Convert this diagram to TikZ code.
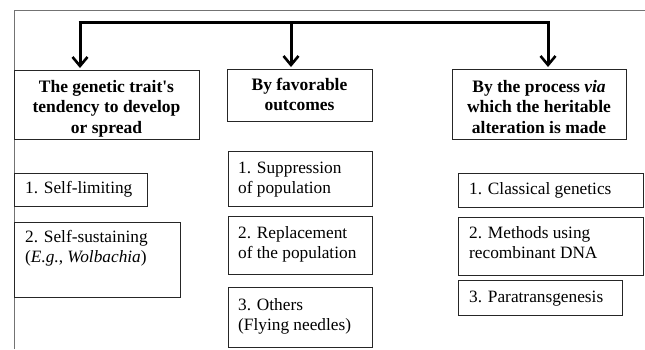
\documentclass[tikz,border=0pt]{standalone}
\usepackage{fontspec}
\setmainfont{Liberation Serif}
\usetikzlibrary{arrows.meta}
\tikzset{
  box/.style={draw=black!85, line width=0.8pt, inner sep=0pt, anchor=north west},
  frameline/.style={draw=black!55, line width=0.8pt},
  bar/.style={line width=3pt, line join=miter, line cap=butt},
  arr/.style={bar, -{Straight Barb[length=9pt,width=15pt,line width=2.6pt]}, shorten >=2pt},
  txt/.style={inner sep=0pt, anchor=base west, font=\fontsize{17.3}{20}\selectfont},
  htxt/.style={inner sep=0pt, anchor=base, font=\fontsize{17.5}{20.5}\selectfont\bfseries},
}
\begin{document}
\begin{tikzpicture}[x=1pt,y=-1pt]
\useasboundingbox (0,0) rectangle (645,349);
% frame
\draw[frameline] (14,349) -- (14,10) -- (645,10);
% header boxes
\node[box, minimum width=185pt, minimum height=69pt] (h1) at (14,70) {};
\node[box, minimum width=145pt, minimum height=52pt] (h2) at (227,69) {};
\node[box, minimum width=174pt, minimum height=70pt] (h3) at (452,69) {};
\node[htxt] (h1t) at (106.5,92) {\parbox[t]{185pt}{\centering The genetic trait\textquotesingle s\\tendency to develop\\or spread}};
\node[htxt] (h2t) at (299.5,90) {\parbox[t]{145pt}{\centering By favorable\\outcomes}};
\node[htxt] (h3t) at (539,92) {\parbox[t]{174pt}{\centering By the process \textit{via}\\which the heritable\\alteration is made}};
% bracket
\coordinate (j1) at (80,22);
\coordinate (j2) at (291,22);
\coordinate (j3) at (548,22);
\draw[bar] ([xshift=-1.5pt]j1) -- ([xshift=1.5pt]j3);
\draw[arr] ([yshift=-1.5pt]j1) -- (j1 |- h1.north);
\draw[arr] (j2) -- (j2 |- h2.north);
\draw[arr] ([yshift=-1.5pt]j3) -- (j3 |- h3.north);
% sub boxes column 1
\node[box, minimum width=133pt, minimum height=33pt] (s1a) at (14,173) {};
\node[box, minimum width=166pt, minimum height=75pt] (s1b) at (14,222) {};
\node[txt] (s1at) at (25,193) {1. Self-limiting};
\node[txt] (s1bt) at (25,242) {\parbox[t]{160pt}{2. Self-sustaining\\(\textit{E.g.}, \textit{Wolbachia})}};
% column 2
\node[box, minimum width=144pt, minimum height=55pt] (s2a) at (228,151) {};
\node[box, minimum width=144pt, minimum height=58pt] (s2b) at (228,216) {};
\node[box, minimum width=144pt, minimum height=60pt] (s2c) at (228,287) {};
\node[txt] (s2at) at (238,173) {\parbox[t]{140pt}{1. Suppression\\of population}};
\node[txt] (s2bt) at (238,238) {\parbox[t]{140pt}{2. Replacement\\of the population}};
\node[txt] (s2ct) at (238,310) {\parbox[t]{140pt}{3. Others\\(Flying needles)}};
% column 3
\node[box, minimum width=185pt, minimum height=34pt] (s3a) at (458,173) {};
\node[box, minimum width=185pt, minimum height=58pt] (s3b) at (458,217) {};
\node[box, minimum width=164pt, minimum height=35pt] (s3c) at (458,280) {};
\node[txt] (s3at) at (469,194) {1. Classical genetics};
\node[txt] (s3bt) at (469,238) {\parbox[t]{170pt}{2. Methods using\\recombinant DNA}};
\node[txt] (s3ct) at (469,302) {3. Paratransgenesis};
\end{tikzpicture}
\end{document}
